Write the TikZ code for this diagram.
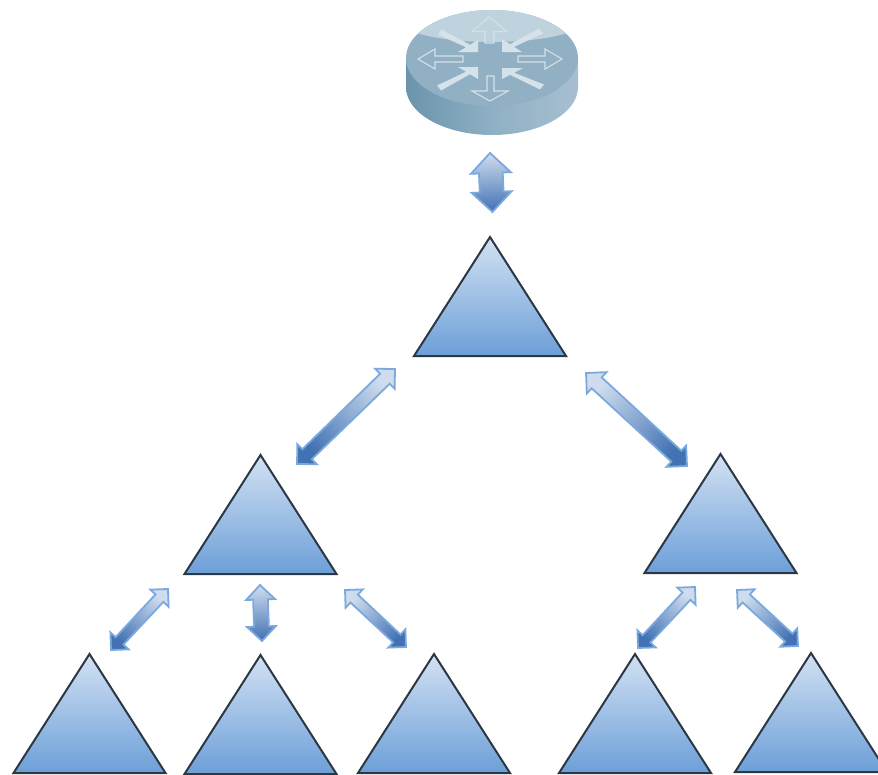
\documentclass[tikz,border=0pt]{standalone}
\usetikzlibrary{shapes.geometric,shapes.arrows,calc}
\definecolor{triTop}{HTML}{D3E1F3}
\definecolor{triBot}{HTML}{6C9FD8}
\definecolor{triLine}{HTML}{2B3742}
\definecolor{arLight}{HTML}{CEDCEE}
\definecolor{arDark}{HTML}{4272B3}
\definecolor{arLine}{HTML}{7BA9DD}
\definecolor{rtTop}{HTML}{92B0C3}
\definecolor{rtHigh}{HTML}{BFD3DE}
\definecolor{rtGlyph}{HTML}{D6E2E9}
\definecolor{rtGlyphLine}{HTML}{D3E0E8}
\definecolor{sideA}{RGB}{109,151,176}
\definecolor{sideB}{RGB}{88,133,160}
\definecolor{sideC}{RGB}{143,176,196}
\definecolor{sideD}{RGB}{165,189,207}
\definecolor{sideE}{RGB}{175,198,214}
\pgfdeclarehorizontalshading{rtside}{100bp}{
  color(0bp)=(sideA);
  color(12bp)=(sideB);
  color(50bp)=(sideC);
  color(72bp)=(sideD);
  color(100bp)=(sideE)}
\tikzset{
  tri/.style={isosceles triangle, isosceles triangle stretches, shape border rotate=90,
    anchor=apex, minimum width=152pt, minimum height=119pt, inner sep=0pt, outer sep=0pt,
    draw=triLine, line width=2pt, line join=miter, top color=triTop, bottom color=triBot},
  dbl/.style={double arrow, double arrow tip angle=90, inner xsep=0pt, outer sep=0pt,
    draw=arLine, line width=1.8pt, top color=arLight, bottom color=arDark},
  rtsolid/.style={fill=rtGlyph, draw=none},
  rtoutline/.style={draw=rtGlyphLine, line width=1.1pt, fill=none, line join=miter}
}
\newcommand{\blockarrow}[5]{%
  \path let \p1=($(#3)-(#2)$), \n1={atan2(\y1,\x1)}, \n2={veclen(\x1,\y1)}, \n3={\n1+90} in
    node[dbl, rotate=\n1, minimum height=\n2, minimum width=#4*2pt, inner ysep=#5pt,
         shading angle=\n3] (#1) at ($(#2)!.5!(#3)$) {};}
\begin{document}
\begin{tikzpicture}[x=1pt,y=-1pt]
\clip (0,0) rectangle (878,774);
% router
\path[shading=rtside]
  (406,58) -- (406,87) arc[start angle=180,end angle=0,x radius=86,y radius=48] -- (578,58) -- cycle;
\fill[rtTop] (492,58) ellipse[x radius=86,y radius=48];
\begin{scope}
  \clip (492,58) ellipse[x radius=86,y radius=48];
  \fill[rtHigh] (400,0) -- (585,0) -- (585,30) -- (567,33) .. controls (530,45) and (454,45) .. (417,33) -- (400,30) -- cycle;
\end{scope}
\fill[rtsolid] (441.5,29.5) -- (470,44.8) -- (478,40) -- (478,52) -- (458,52) -- (466,47.2) -- (438,34.5) -- cycle;
\fill[rtsolid] (539,28.5) -- (510,44.2) -- (502,39) -- (502,52) -- (522,52) -- (514,46.8) -- (543,33.5) -- cycle;
\fill[rtsolid] (437,85.5) -- (466,71.8) -- (458,67) -- (478,67) -- (478,79) -- (470,74.2) -- (441,90.5) -- cycle;
\fill[rtsolid] (544,84.5) -- (514,72.7) -- (523,68) -- (502,68) -- (502,79) -- (510,74.8) -- (540,89.5) -- cycle;
\draw[rtoutline] (485,43) -- (485,31.5) -- (472,31.5) -- (489,17) -- (507,31.5) -- (494,31.5) -- (494,43) -- cycle;
\draw[rtoutline] (487,76) -- (487,91) -- (472,91) -- (490,101) -- (508,91) -- (494,91) -- (494,76) -- cycle;
\draw[rtoutline] (463,56) -- (435,56) -- (435,49) -- (418,59) -- (435,69) -- (435,62) -- (463,62) -- cycle;
\draw[rtoutline] (518,56) -- (545,56) -- (545,49) -- (562,59) -- (545,69) -- (545,62) -- (518,62) -- cycle;
% triangles
\node[tri] (top) at (490,237) {};
\node[tri] (midL) at (260.5,455) {};
\node[tri] (midR) at (720.5,454) {};
\node[tri] (leafA) at (89.5,654) {};
\node[tri] (leafB) at (260.5,655) {};
\node[tri] (leafC) at (434,654) {};
\node[tri] (leafD) at (635,654) {};
\node[tri] (leafE) at (811,653) {};
% arrow ends
\coordinate (a0s) at (490,153); \coordinate (a0e) at (492.5,212);
\coordinate (a1s) at (395,369); \coordinate (a1e) at (297,464);
\coordinate (a2s) at (586,373); \coordinate (a2e) at (687,466);
\coordinate (a3s) at (168,589); \coordinate (a3e) at (111,650);
\coordinate (a4s) at (260,585); \coordinate (a4e) at (262,641);
\coordinate (a5s) at (345,590); \coordinate (a5e) at (406,647);
\coordinate (a6s) at (695,587); \coordinate (a6e) at (638,648);
\coordinate (a7s) at (737,590); \coordinate (a7e) at (798,646);
\blockarrow{arrowRouter}{a0s}{a0e}{20}{9.5}
\blockarrow{arrowL}{a1s}{a1e}{14}{6}
\blockarrow{arrowR}{a2s}{a2e}{14}{6.5}
\blockarrow{arrowA}{a3s}{a3e}{11}{4.5}
\blockarrow{arrowB}{a4s}{a4e}{13}{6.5}
\blockarrow{arrowC}{a5s}{a5e}{11}{4.5}
\blockarrow{arrowD}{a6s}{a6e}{11}{4.5}
\blockarrow{arrowE}{a7s}{a7e}{11}{4.5}
\end{tikzpicture}
\end{document}
